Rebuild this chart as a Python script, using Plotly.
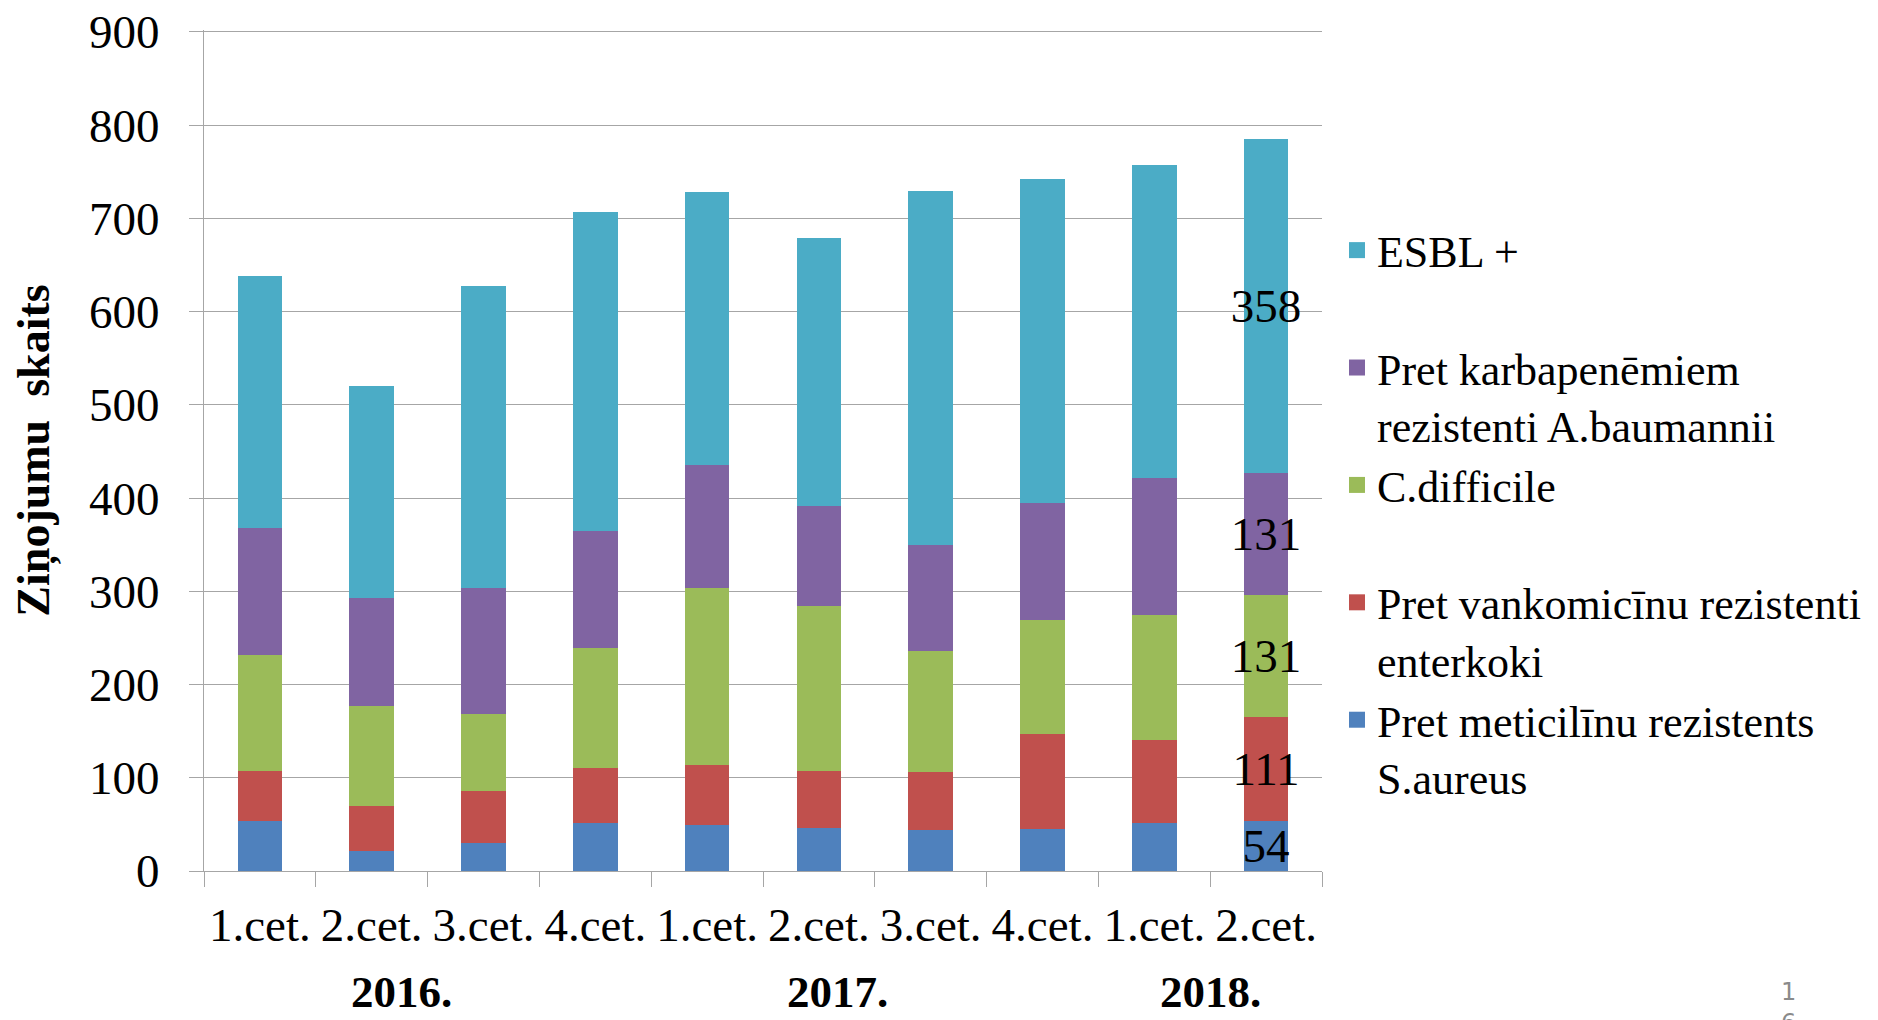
import plotly.graph_objects as go

# ---- data ----
quarters = ["1.cet.", "2.cet.", "3.cet.", "4.cet.", "1.cet.", "2.cet.", "3.cet.", "4.cet.", "1.cet.", "2.cet."]
years = ["2016.", "2017.", "2018."]
year_pos = [1.27, 5.17, 8.5]

series_names = [
    "Pret meticilīnu rezistents<br>S.aureus",
    "Pret vankomicīnu rezistenti<br>enterkoki",
    "C.difficile",
    "Pret karbapenēmiem<br>rezistenti A.baumannii",
    "ESBL +",
]
mrsa = [54, 21, 30, 52, 49, 46, 44, 45, 51, 54]
vre = [53, 49, 56, 59, 65, 61, 62, 102, 89, 111]
cdiff = [125, 107, 82, 128, 189, 177, 130, 122, 135, 131]
acin = [136, 116, 136, 126, 132, 107, 114, 126, 146, 131]
esbl = [270, 227, 323, 342, 293, 288, 379, 347, 336, 358]
y_ticks = [0, 100, 200, 300, 400, 500, 600, 700, 800, 900]

colors = ["#4F81BD", "#C0504D", "#9BBB59", "#8064A2", "#4BACC6"]
values = [mrsa, vre, cdiff, acin, esbl]

SERIF = "Liberation Serif, Times New Roman, serif"
x_idx = list(range(len(quarters)))

# page body has an 8px margin -> figure is offset by 8px
W, H = 1870, 1012
ML, MR, MT, MB = 196, 556, 22, 149
PH = H - MT - MB

fig = go.Figure()
for name, vals, col in zip(series_names, values, colors):
    labels = [""] * (len(vals) - 1) + [str(vals[-1])]
    fig.add_trace(go.Bar(
        x=x_idx, y=vals, name=name, marker=dict(color=col, line=dict(width=0)),
        text=labels, textposition="inside", insidetextanchor="middle",
        textangle=0, constraintext="none",
        textfont=dict(family=SERIF, size=47, color="black"),
        showlegend=False,
    ))

# legend entries (top to bottom)
for name, col in zip(reversed(series_names), reversed(colors)):
    txt = name if "<br>" in name else name + "<br> "
    fig.add_trace(go.Scatter(
        x=[None], y=[None], mode="markers", name=txt,
        marker=dict(symbol="square", size=16, color=col),
    ))

for yr, xp in zip(years, year_pos):
    fig.add_annotation(
        x=xp, xref="x", y=(MT + PH - 984) / PH, yref="paper", text="<b>%s</b>" % yr,
        showarrow=False, xanchor="center", yanchor="middle",
        font=dict(family=SERIF, size=45, color="black"),
    )

fig.add_annotation(
    x=(1780 - ML) / (W - ML - MR), xref="paper", y=(MT + PH - 968) / PH, yref="paper",
    text="1<br>6", showarrow=False, xanchor="center", yanchor="top", align="center",
    font=dict(family="DejaVu Sans, sans-serif", size=24, color="#8A8A8A"),
)

fig.update_layout(
    width=W, height=H,
    margin=dict(l=ML, r=MR, t=MT, b=MB, autoexpand=False),
    paper_bgcolor="white", plot_bgcolor="white",
    barmode="stack", bargap=0.6,
    font=dict(family=SERIF, color="black"),
    legend=dict(
        x=1.0134, xanchor="left", y=0.780, yanchor="top",
        traceorder="normal", valign="top",
        font=dict(family=SERIF, size=44, color="black"),
        bgcolor="rgba(0,0,0,0)", itemclick=False,
    ),
    xaxis=dict(
        range=[-0.5, 9.5], tickmode="array", tickvals=x_idx, ticktext=quarters,
        tickangle=0, ticks="", showgrid=False, zeroline=False,
        showline=True, linecolor="#A6A6A6", linewidth=1.3,
        tickfont=dict(family=SERIF, size=47, color="black"),
        ticklabelstandoff=12,
        minor=dict(tick0=0.5, dtick=1, ticks="outside", ticklen=15, tickcolor="#A6A6A6",
                   tickwidth=1.3, showgrid=False),
    ),
    yaxis=dict(
        range=[0, 902], tickmode="array", tickvals=y_ticks,
        ticks="outside", ticklen=14, tickcolor="#A6A6A6", tickwidth=1.3,
        showgrid=True, gridcolor="#A6A6A6", gridwidth=1.3, zeroline=False,
        showline=True, linecolor="#A6A6A6", linewidth=1.3,
        tickfont=dict(family=SERIF, size=47, color="black"),
        ticklabelstandoff=20, ticklabeloverflow="allow",
        title=dict(text="<b>Ziņojumu  skaits</b>", standoff=24,
                   font=dict(family=SERIF, size=46, color="black")),
    ),
)

fig.write_html("out.html")
